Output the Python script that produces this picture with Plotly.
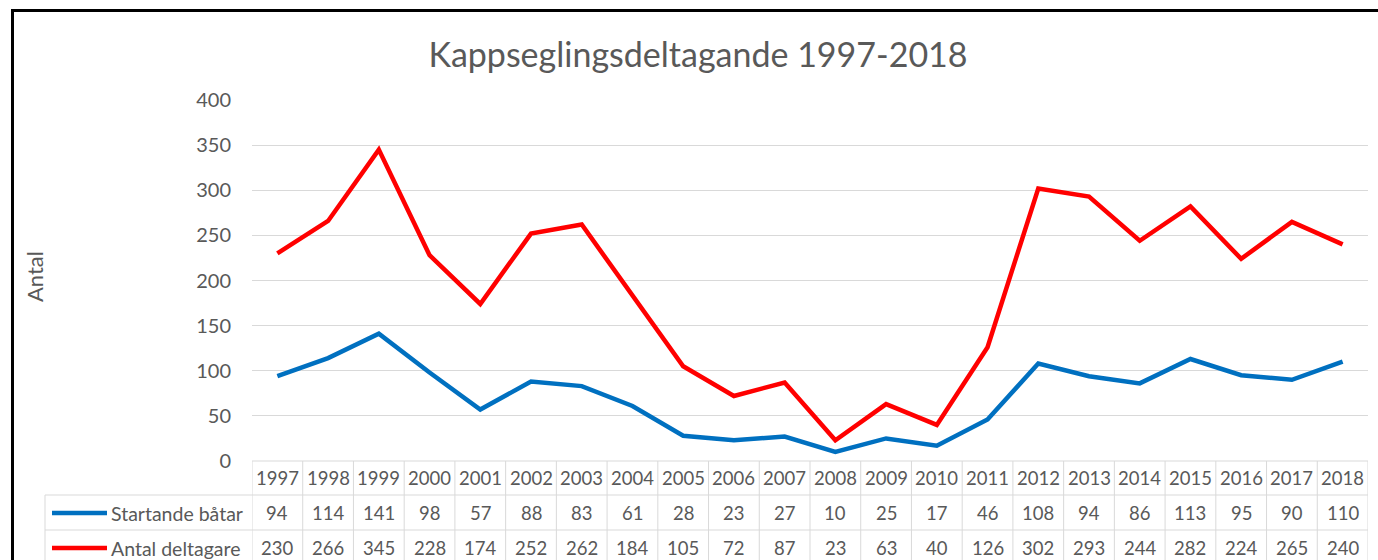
import plotly.graph_objects as go

years = ["1997", "1998", "1999", "2000", "2001", "2002", "2003", "2004", "2005", "2006", "2007",
         "2008", "2009", "2010", "2011", "2012", "2013", "2014", "2015", "2016", "2017", "2018"]
startande_batar = [94, 114, 141, 98, 57, 88, 83, 61, 28, 23, 27, 10, 25, 17, 46, 108, 94, 86, 113, 95, 90, 110]
antal_deltagare = [230, 266, 345, 228, 174, 252, 262, 184, 105, 72, 87, 23, 63, 40, 126, 302, 293, 244, 282, 224, 265, 240]
series_names = ["Startande båtar", "Antal deltagare"]
series_colors = ["#0070C0", "#FF0000"]
y_ticks = [0, 50, 100, 150, 200, 250, 300, 350, 400]
title_text = "Kappseglingsdeltagande 1997-2018"
y_title = "Antal"

W, H = 1378, 560
L, R_EDGE, TOP, BOT = 252, 1368, 100, 461
PW, PH = R_EDGE - L, BOT - TOP
FONT = "Lato"
GRAY = "#595959"
GRID = "#D9D9D9"


def px(p):
    return (p - L) / PW


def py(p):
    return (BOT - p) / PH


fig = go.Figure()
series_values = [startande_batar, antal_deltagare]
for name, vals, col in zip(series_names, series_values, series_colors):
    fig.add_trace(go.Scatter(x=years, y=vals, mode="lines", name=name,
                             line=dict(color=col, width=4.5), showlegend=False))

shapes = []
annotations = []

row_centers = [478, 513, 548]
row_lines = [495, 530, 566]
n = len(years)
for i in range(n + 1):
    shapes.append(dict(type="line", xref="x", yref="paper", x0=i - 0.5, x1=i - 0.5,
                       y0=py(BOT), y1=py(row_lines[-1]), line=dict(color=GRID, width=1)))
shapes.append(dict(type="line", xref="paper", yref="paper", x0=px(45), x1=px(45),
                   y0=py(row_lines[0]), y1=py(row_lines[-1]), line=dict(color=GRID, width=1)))
for yl in row_lines[:2]:
    shapes.append(dict(type="line", xref="paper", yref="paper", x0=px(45), x1=1,
                       y0=py(yl), y1=py(yl), line=dict(color=GRID, width=1)))
shapes.append(dict(type="line", xref="paper", yref="paper", x0=0, x1=1,
                   y0=0, y1=0, line=dict(color=GRID, width=1)))

for i, yr in enumerate(years):
    annotations.append(dict(x=i, y=py(row_centers[0]), xref="x", yref="paper", text=yr,
                            xanchor="center", yanchor="middle",
                            showarrow=False, font=dict(family=FONT, size=18.5, color=GRAY)))
for k, (name, vals, col) in enumerate(zip(series_names, series_values, series_colors)):
    yc = py(row_centers[k + 1])
    for i, v in enumerate(vals):
        annotations.append(dict(x=i, y=yc, xref="x", yref="paper", text=str(v),
                                xanchor="center", yanchor="middle",
                                showarrow=False, font=dict(family=FONT, size=18.5, color=GRAY)))
    shapes.append(dict(type="line", xref="paper", yref="paper", x0=px(52), x1=px(107),
                       y0=yc, y1=yc, line=dict(color=col, width=4.5)))
    annotations.append(dict(x=px(109), y=yc, xref="paper", yref="paper", text=name,
                            xanchor="left", yanchor="middle", showarrow=False,
                            font=dict(family=FONT, size=19.5, color=GRAY)))

annotations.append(dict(x=px(34), y=py(277), xref="paper", yref="paper", text=y_title,
                        textangle=-90, xanchor="center", yanchor="middle", showarrow=False,
                        font=dict(family=FONT, size=22, color=GRAY)))

shapes.append(dict(type="rect", xref="paper", yref="paper", x0=px(12.5), x1=px(1400),
                   y0=py(10.5), y1=py(600), line=dict(color="black", width=3), layer="below"))

fig.update_layout(
    width=W, height=H,
    margin=dict(l=L, r=W - R_EDGE, t=TOP, b=H - BOT, pad=0),
    paper_bgcolor="white", plot_bgcolor="white",
    title=dict(text=title_text, x=698 / W, xanchor="center", y=1 - 55 / H, yanchor="middle",
               font=dict(family=FONT, size=34, color=GRAY)),
    xaxis=dict(type="category", range=[-0.5, n - 0.5], showticklabels=False, showgrid=False,
               zeroline=False, showline=False, ticks=""),
    yaxis=dict(range=[0, 400], tickvals=y_ticks, showgrid=True, gridcolor=GRID, gridwidth=1,
               zeroline=False, showline=False, ticks="", ticklabelstandoff=20,
               tickfont=dict(family=FONT, size=20, color=GRAY)),
    shapes=shapes, annotations=annotations,
)

fig.write_html("out.html", config={"displayModeBar": False},
               post_script="document.body.style.margin='0px';")
